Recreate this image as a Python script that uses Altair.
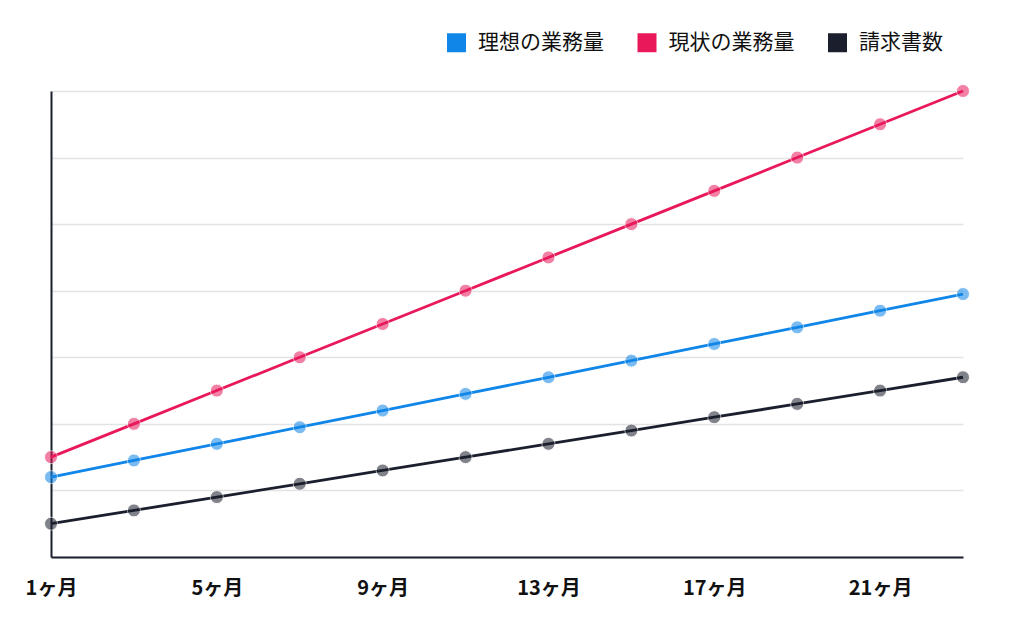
import altair as alt
import pandas as pd

months = [1, 3, 5, 7, 9, 11, 13, 15, 17, 19, 21, 23]
ideal = [1.2, 1.45, 1.7, 1.95, 2.2, 2.45, 2.7, 2.95, 3.2, 3.45, 3.7, 3.95]
current = [1.5, 2.0, 2.5, 3.0, 3.5, 4.0, 4.5, 5.0, 5.5, 6.0, 6.5, 7.0]
invoices = [0.5, 0.7, 0.9, 1.1, 1.3, 1.5, 1.7, 1.9, 2.1, 2.3, 2.5, 2.7]

series_names = ["理想の業務量", "現状の業務量", "請求書数"]
series_colors = ["#0f86e8", "#e8185a", "#1b1e2c"]
tick_months = [1, 5, 9, 13, 17, 21]

rows = []
for name, vals in zip(series_names, [ideal, current, invoices]):
    for m, v in zip(months, vals):
        rows.append({"month": m, "value": v, "series": name})
df = pd.DataFrame(rows)

FONT = "Noto Sans CJK JP"

x = alt.X(
    "month:Q",
    scale=alt.Scale(domain=[1, 23], nice=False, zero=False),
    axis=alt.Axis(
        values=tick_months,
        labelExpr="datum.value + 'ヶ月'",
        grid=False,
        ticks=False,
        domainColor="#1b1e2c",
        domainWidth=2,
        labelFont=FONT,
        labelFontWeight="bold",
        labelFontSize=20,
        labelColor="#111111",
        labelPadding=21,
        labelFlush=False,
        labelOverlap=False,
        title=None,
    ),
)
y = alt.Y(
    "value:Q",
    scale=alt.Scale(domain=[0, 7], nice=False),
    axis=alt.Axis(
        values=[0, 1, 2, 3, 4, 5, 6, 7],
        labels=False,
        ticks=False,
        grid=True,
        gridColor="#e3e3e3",
        gridWidth=1.5,
        domainColor="#1b1e2c",
        domainWidth=2,
        title=None,
    ),
)
color_scale = alt.Scale(domain=series_names, range=series_colors)
legend = alt.Legend(
    title=None,
    orient="none",
    legendX=395,
    legendY=-59,
    direction="horizontal",
    symbolType="square",
    symbolSize=361,
    symbolOpacity=1,
    symbolStrokeWidth=0,
    labelFont=FONT,
    labelFontSize=21,
    labelColor="#111111",
    labelOffset=11,
    columnPadding=32.5,
    labelLimit=300,
)
color = alt.Color("series:N", scale=color_scale, sort=series_names, legend=legend)

lines = alt.Chart(df).mark_line(strokeWidth=2.8).encode(x=x, y=y, color=color)
points = alt.Chart(df).mark_point(
    filled=True, size=170, opacity=0.55, stroke="white", strokeWidth=1
).encode(x=x, y=y, color=color)

chart = (
    alt.layer(lines, points)
    .properties(
        width=912,
        height=466,
        autosize=alt.AutoSizeParams(type="none"),
        padding={"left": 43, "top": 83, "right": 40, "bottom": 60},
        view=alt.ViewBackground(stroke=None, strokeWidth=0),
    )
    .configure_view(stroke=None, strokeWidth=0)
    .configure_axis(grid=False)
    .configure_axisY(grid=True)
    .configure(font=FONT)
)

chart.save("out.html", embed_options={"renderer": "svg", "actions": False})
